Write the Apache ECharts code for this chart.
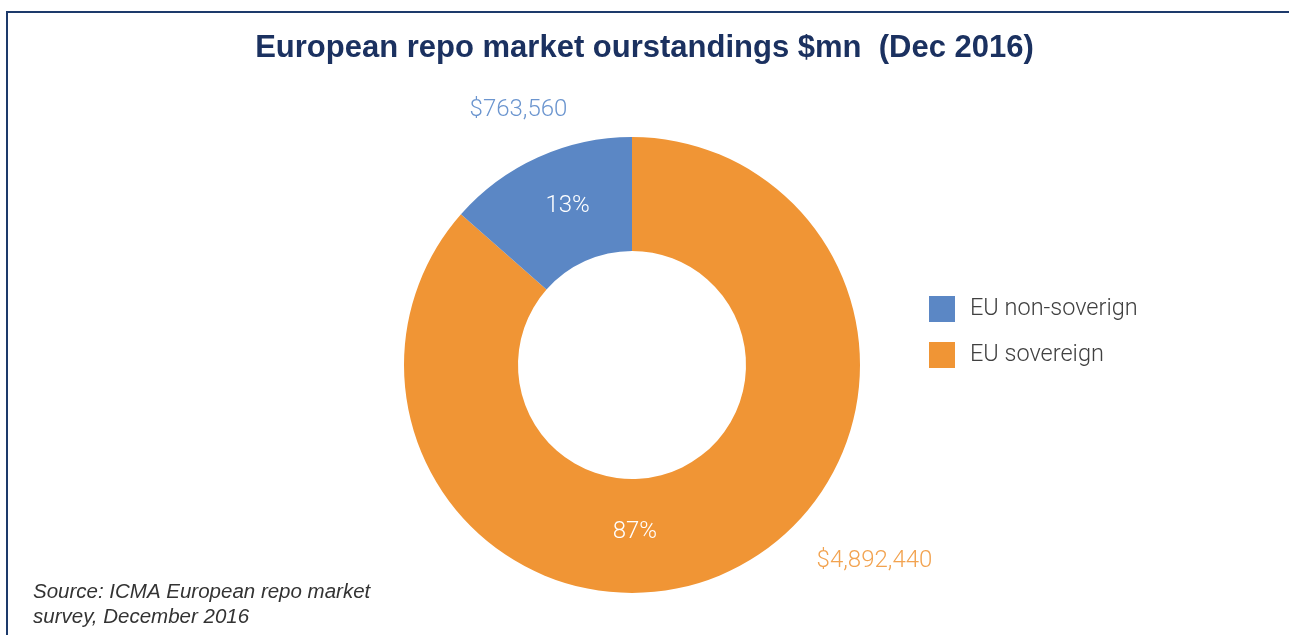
<!DOCTYPE html>
<html>
<head>
<meta charset="utf-8">
<script src="https://cdn.jsdelivr.net/npm/echarts@6/dist/echarts.min.js"></script>
<style>
  html, body { margin: 0; padding: 0; background: #fff; }
  #chart { width: 1289px; height: 635px; }
</style>
</head>
<body>
<div id="chart"></div>
<script>
// data
var categories = ['EU sovereign', 'EU non-soverign'];
var values = [4892440, 763560];
var pctLabels = ['87%', '13%'];
var legendOrder = ['EU non-soverign', 'EU sovereign'];
var colors = ['#f09535', '#5b87c5'];
var valueColors = ['#f2a350', '#6b95cf'];

window.onload = function() {
	var chart = echarts.init(document.getElementById('chart'));
	var cx = 632, cy = 365; // pie centre, px

	// label spots as [angle deg, radius px] around the pie centre
	var pctSpots = [[-89, 167], [112, 172]];
	var valSpots = [[-39, 312], [114, 279]];
	function spot(s) {
		var a = s[0] * Math.PI / 180;
		return { x: cx + s[1] * Math.cos(a), y: cy - s[1] * Math.sin(a), align: 'center', verticalAlign: 'middle' };
	}

	var pieData = categories.map(function(name, i) {
		return { name: name, value: values[i], itemStyle: { color: colors[i] } };
	});

	var option = {
		backgroundColor: '#ffffff',
		animation: false,
		title: [{
			text: 'European repo market ourstandings $mn  (Dec 2016)',
			left: 'center',
			top: 28,
			textStyle: { fontFamily: 'Liberation Sans', fontWeight: 'bold', fontSize: 31, color: '#1b3160' }
		}, {
			text: 'Source: ICMA European repo market\nsurvey, December 2016',
			left: 28,
			top: 575,
			textStyle: { fontFamily: 'Liberation Sans', fontStyle: 'italic', fontWeight: 'normal', fontSize: 20.5, lineHeight: 25, color: '#333333' }
		}],
		legend: {
			data: legendOrder,
			orient: 'vertical',
			left: 924,
			top: 291,
			icon: 'rect',
			itemWidth: 26,
			itemHeight: 26,
			itemGap: 20,
			textStyle: { fontFamily: 'Roboto', fontWeight: 300, fontSize: 23.5, color: '#404040', padding: [0, 0, 0, 10] }
		},
		graphic: [{
			type: 'polyline',
			shape: { points: [[7, 635], [7, 12], [1289, 12]] },
			style: { stroke: '#1d3a6b', lineWidth: 2, fill: null }
		}],
		series: [{
			// slices + percent labels
			name: 'outstandings',
			type: 'pie',
			center: [cx, cy],
			radius: [114, 228],
			startAngle: 90,
			clockwise: true,
			data: pieData,
			label: {
				show: true,
				position: 'inside',
				formatter: function(p) { return pctLabels[p.dataIndex]; },
				fontFamily: 'Roboto', fontWeight: 300, fontSize: 24, color: '#ffffff'
			},
			labelLayout: function(p) { return spot(pctSpots[p.dataIndex]); },
			labelLine: { show: false },
			emphasis: { disabled: true }
		}, {
			// same slices, invisible, carrying the $ value labels
			name: 'values',
			type: 'pie',
			center: [cx, cy],
			radius: [114, 228],
			startAngle: 90,
			clockwise: true,
			silent: true,
			legendHoverLink: false,
			data: categories.map(function(name, i) {
				return { name: name, value: values[i], itemStyle: { color: 'rgba(0,0,0,0)' }, label: { color: valueColors[i] } };
			}),
			label: {
				show: true,
				position: 'outside',
				formatter: function(p) { return '$' + p.value.toLocaleString('en-US'); },
				fontFamily: 'Roboto', fontWeight: 300, fontSize: 24
			},
			labelLayout: function(p) { return spot(valSpots[p.dataIndex]); },
			labelLine: { show: false },
			emphasis: { disabled: true }
		}]
	};

	chart.setOption(option);
};
</script>
</body>
</html>
